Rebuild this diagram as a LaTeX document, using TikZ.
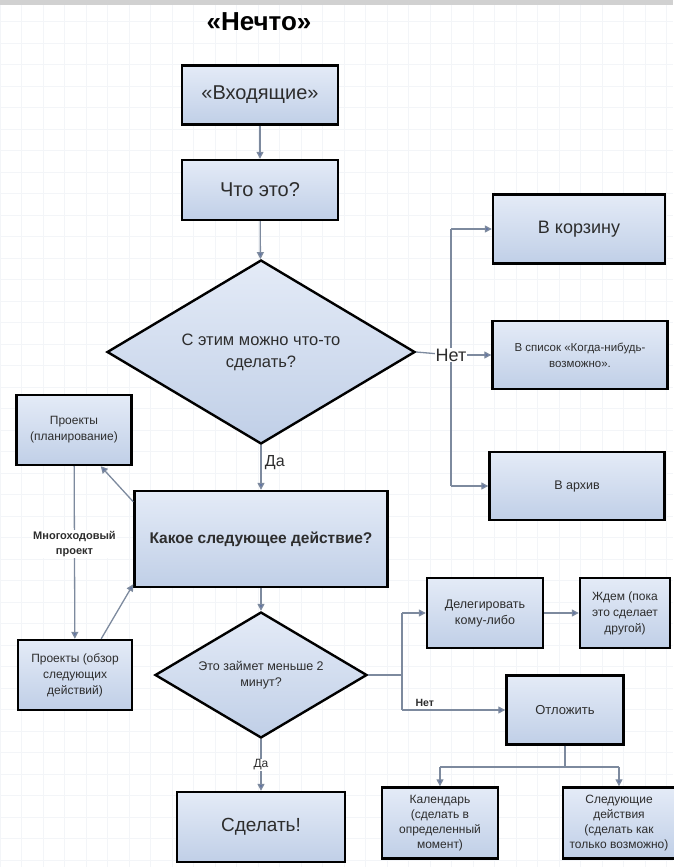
\documentclass[tikz,border=0pt]{standalone}
\usepackage{fontspec}
\setmainfont{Liberation Sans}
\usetikzlibrary{shapes.geometric,arrows.meta}
\definecolor{boxtop}{RGB}{228,235,247}
\definecolor{boxbot}{RGB}{192,207,231}
\definecolor{linkgray}{RGB}{125,138,158}
\definecolor{tipblue}{RGB}{95,115,165}
\definecolor{txtgray}{RGB}{45,45,45}
\definecolor{gridgray}{RGB}{243,245,248}
\tikzset{
  block/.style={rectangle,draw=black,line width=2.4pt,top color=boxtop,bottom color=boxbot,
    text=txtgray,align=center,inner sep=2pt},
  decision/.style={diamond,draw=black,line width=2.4pt,top color=boxtop,bottom color=boxbot,
    text=txtgray,align=center,inner sep=0pt,aspect=1.67},
  wire/.style={draw=linkgray,line width=1.3pt},
  link/.style={wire,-{Triangle[length=7pt,width=7pt,fill=tipblue]}},
  lbl/.style={fill=white,inner sep=1pt,text=txtgray,align=center}
}
\begin{document}
\begin{tikzpicture}[x=1pt,y=-1pt]
\useasboundingbox (0,0) rectangle (673,867);
% background grid
\foreach \gx in {0,21.5,...,673} \draw[gridgray,line width=0.6pt] (\gx,0) -- (\gx,867);
\foreach \gy in {0,21.5,...,867} \draw[gridgray,line width=0.6pt] (0,\gy) -- (673,\gy);
\fill[black!18] (0,0) rectangle (673,5);
\node[font=\fontsize{26}{30}\selectfont\bfseries] (title) at (259,22) {«Нечто»};
% main column
\node[block,minimum width=156pt,minimum height=59pt,font=\fontsize{20}{24}\selectfont] (inbox) at (260,95) {«Входящие»};
\node[block,minimum width=156pt,minimum height=60pt,font=\fontsize{20}{24}\selectfont] (what) at (260,190) {Что это?};
\node[decision,minimum width=308pt,minimum height=184pt,font=\fontsize{16.5}{22}\selectfont] (canDo) at (261,352) {С этим можно что-то\\сделать?};
\node[block,minimum width=253pt,minimum height=96pt,font=\fontsize{15.5}{19}\selectfont\bfseries] (next) at (261,539) {Какое следующее действие?};
\node[decision,minimum width=212pt,minimum height=126pt,font=\fontsize{12.5}{16}\selectfont] (twoMin) at (261,675) {Это займет меньше 2\\минут?};
\node[block,minimum width=168pt,minimum height=70pt,font=\fontsize{19}{23}\selectfont] (doIt) at (261,827) {Сделать!};
% right column
\node[block,minimum width=172pt,minimum height=69pt,font=\fontsize{18}{22}\selectfont] (trash) at (579,229) {В корзину};
\node[block,minimum width=175pt,minimum height=68pt,font=\fontsize{11.5}{16}\selectfont] (someday) at (580,355) {В список «Когда-нибудь-\\возможно».};
\node[block,minimum width=175pt,minimum height=68pt,font=\fontsize{12.5}{16}\selectfont] (archive) at (577,486) {В архив};
% projects
\node[block,minimum width=115pt,minimum height=70pt,font=\fontsize{12}{16}\selectfont] (plan) at (74,430) {Проекты\\(планирование)};
\node[block,minimum width=114pt,minimum height=70pt,font=\fontsize{12}{16}\selectfont] (review) at (75,675) {Проекты (обзор\\следующих\\действий)};
% lower right
\node[block,minimum width=116pt,minimum height=70pt,font=\fontsize{12.5}{16}\selectfont] (deleg) at (485,613) {Делегировать\\кому-либо};
\node[block,minimum width=90pt,minimum height=70pt,font=\fontsize{12}{16}\selectfont] (wait) at (625,613) {Ждем (пока\\это сделает\\другой)};
\node[block,minimum width=117pt,minimum height=69pt,font=\fontsize{13}{16}\selectfont] (defer) at (565,710) {Отложить};
\node[block,minimum width=116pt,minimum height=71pt,font=\fontsize{12}{15}\selectfont] (cal) at (440,823) {Календарь\\(сделать в\\определенный\\момент)};
\node[block,minimum width=112pt,minimum height=71pt,font=\fontsize{12}{15}\selectfont] (asap) at (619,823) {Следующие\\действия\\(сделать как\\только возможно)};
% connectors
\draw[link] (inbox) -- (what);
\draw[link] (what) -- (canDo);
\draw[link] (canDo) -- node[pos=0.4,right,text=txtgray,font=\fontsize{16}{18}\selectfont] {Да} (next);
\coordinate (no1) at (451,355);
\draw[wire] (canDo.east) -- (no1);
\draw[wire] (no1 |- trash.west) -- (no1 |- archive.west);
\draw[link] (no1 |- trash.west) -- (trash.west);
\draw[link] (no1) -- (someday.west);
\draw[link] (no1 |- archive.west) -- (archive.west);
\node[lbl,font=\fontsize{18}{20}\selectfont] at (no1) {Нет};
\draw[link] ([yshift=-12pt]next.north west) -- ([xshift=-32pt]plan.south east);
\draw[link] (plan) -- node[lbl,pos=0.45,font=\fontsize{11}{15}\selectfont\bfseries] {Многоходовый\\проект} (review);
\draw[link] ([xshift=-32pt]review.north east) -- ([yshift=4pt]next.south west);
\draw[link] (next) -- (twoMin);
\draw[link] (twoMin) -- node[lbl,font=\fontsize{12}{14}\selectfont] {Да} (doIt);
\coordinate (no2) at (402,675);
\draw[wire] (twoMin.east) -- (no2);
\draw[wire] (no2 |- deleg.west) -- (no2 |- defer.west);
\draw[link] (no2 |- deleg.west) -- (deleg.west);
\draw[link] (no2 |- defer.west) -- node[pos=0.22,above,inner sep=3pt,text=txtgray,font=\fontsize{10.5}{12}\selectfont\bfseries] {Нет} (defer.west);
\draw[link] (deleg) -- (wait);
\coordinate (split) at (565,767);
\draw[wire] (defer.south) -- (split);
\draw[wire] (cal.north |- split) -- (asap.north |- split);
\draw[link] (cal.north |- split) -- (cal.north);
\draw[link] (asap.north |- split) -- (asap.north);
\end{tikzpicture}
\end{document}
